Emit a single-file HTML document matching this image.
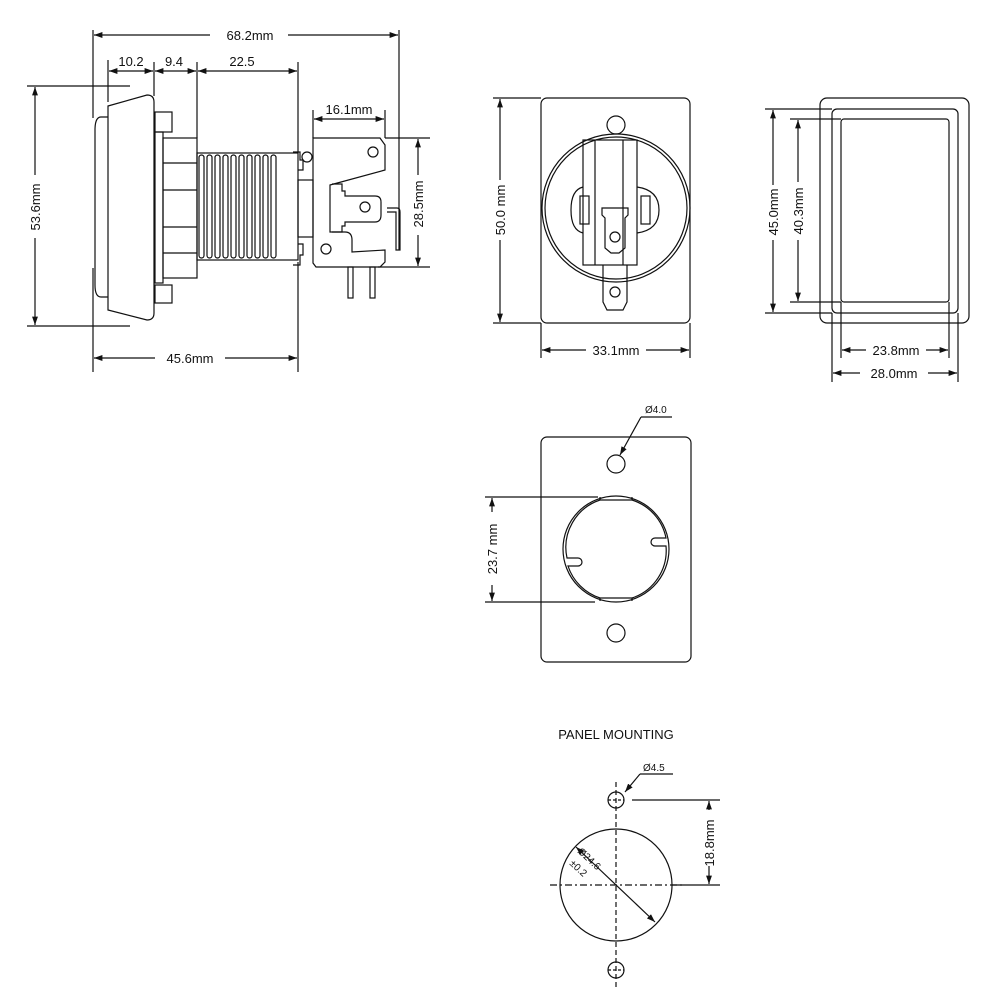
<!DOCTYPE html>
<html><head><meta charset="utf-8"><style>html,body{margin:0;padding:0;background:#fff}svg{display:block}text{font-family:"Liberation Sans",sans-serif;fill:#111}</style></head>
<body>
<svg width="1000" height="1000" viewBox="0 0 1000 1000" xmlns="http://www.w3.org/2000/svg">
<defs>
<marker id="a" viewBox="0 0 10 10" refX="10" refY="5" markerWidth="7" markerHeight="7" orient="auto-start-reverse"><path d="M0,1.5 L10,5 L0,8.5 z" fill="#111"/></marker>
</defs>
<g stroke="#111" stroke-width="1.2" fill="none">
<!-- SIDE VIEW dims -->
<line x1="93" y1="30" x2="93" y2="118"/><line x1="93" y1="268" x2="93" y2="372"/>
<line x1="399" y1="30" x2="399" y2="250"/>
<line x1="94" y1="35" x2="210" y2="35" marker-start="url(#a)"/><line x1="288" y1="35" x2="398" y2="35" marker-end="url(#a)"/>
<line x1="108" y1="60" x2="108" y2="102"/><line x1="154" y1="62" x2="154" y2="96"/><line x1="197" y1="62" x2="197" y2="138"/><line x1="298" y1="62" x2="298" y2="152"/><line x1="298" y1="262" x2="298" y2="372"/>
<line x1="109" y1="71" x2="153" y2="71" marker-start="url(#a)" marker-end="url(#a)"/>
<line x1="155" y1="71" x2="196" y2="71" marker-start="url(#a)" marker-end="url(#a)"/>
<line x1="198" y1="71" x2="297" y2="71" marker-start="url(#a)" marker-end="url(#a)"/>
<line x1="27" y1="86" x2="130" y2="86"/><line x1="27" y1="326" x2="130" y2="326"/>
<line x1="35" y1="87" x2="35" y2="175" marker-start="url(#a)"/><line x1="35" y1="238" x2="35" y2="325" marker-end="url(#a)"/>
<line x1="94" y1="358" x2="155" y2="358" marker-start="url(#a)"/><line x1="225" y1="358" x2="297" y2="358" marker-end="url(#a)"/>
<line x1="313" y1="110" x2="313" y2="138"/><line x1="385" y1="110" x2="385" y2="138"/>
<line x1="314" y1="119" x2="384" y2="119" marker-start="url(#a)" marker-end="url(#a)"/>
<line x1="385" y1="138" x2="430" y2="138"/><line x1="378" y1="267" x2="430" y2="267"/>
<line x1="418" y1="139" x2="418" y2="175" marker-start="url(#a)"/><line x1="418" y1="235" x2="418" y2="266" marker-end="url(#a)"/>
<!-- side view body -->
<path d="M108,117 L101,117 Q95,117 95,130 L95,285 Q95,297 101,297 L108,297"/>
<path d="M108,106 L147,95 Q154,95 154,102 L154,313 Q154,320 147,320 L108,310 Z"/>
<rect x="155" y="112" width="17" height="20"/><rect x="155" y="285" width="17" height="18"/>
<rect x="155" y="132" width="8" height="151"/>
<rect x="163" y="138" width="34" height="140"/>
<line x1="163" y1="163" x2="197" y2="163"/><line x1="163" y1="190" x2="197" y2="190"/><line x1="163" y1="227" x2="197" y2="227"/><line x1="163" y1="253" x2="197" y2="253"/>
<rect x="197" y="153" width="101" height="107"/>
<g>
<rect x="199" y="155" width="5" height="103" rx="2.5"/><rect x="207" y="155" width="5" height="103" rx="2.5"/><rect x="215" y="155" width="5" height="103" rx="2.5"/><rect x="223" y="155" width="5" height="103" rx="2.5"/><rect x="231" y="155" width="5" height="103" rx="2.5"/><rect x="239" y="155" width="5" height="103" rx="2.5"/><rect x="247" y="155" width="5" height="103" rx="2.5"/><rect x="255" y="155" width="5" height="103" rx="2.5"/><rect x="263" y="155" width="5" height="103" rx="2.5"/><rect x="271" y="155" width="5" height="103" rx="2.5"/>
</g>
<path d="M293,152 L300,152 L300,160 L303,160 L303,170 L298,170"/><path d="M293,265 L300,265 L300,255 L303,255 L303,244 L298,244"/>
<circle cx="307" cy="157" r="5"/>
<rect x="298" y="180" width="15" height="57"/>
<path d="M313,138 L380,138 L385,145 L385,170 L330,185 L330,232 L345,232 Q352,232 352,240 L352,252 L385,250 L385,262 L380,267 L316,267 L313,263 Z"/>
<circle cx="373" cy="152" r="5"/><circle cx="326" cy="249" r="5"/>
<path d="M332,184 L342,184 L342,191 L345,191 L345,196 L375,196 Q381,196 381,202 L381,215 Q381,222 375,222 L345,222 L345,226 L342,226 L342,232 L332,232"/>
<circle cx="365" cy="207" r="5"/>
<path d="M387,208 L397,208 Q400,208 400,212 L400,250 L396,250 L396,212 L387,212"/>
<rect x="348" y="267" width="5" height="31"/><rect x="370" y="267" width="5" height="31"/>
<!-- FRONT VIEW -->
<rect x="541" y="98" width="149" height="225" rx="6"/>
<line x1="493" y1="98" x2="541" y2="98"/><line x1="493" y1="323" x2="541" y2="323"/>
<line x1="500" y1="99" x2="500" y2="180" marker-start="url(#a)"/><line x1="500" y1="240" x2="500" y2="322" marker-end="url(#a)"/>
<line x1="541" y1="323" x2="541" y2="358"/><line x1="690" y1="323" x2="690" y2="358"/>
<line x1="542" y1="350" x2="586" y2="350" marker-start="url(#a)"/><line x1="646" y1="350" x2="689" y2="350" marker-end="url(#a)"/>
<circle cx="616" cy="208" r="74"/><circle cx="616" cy="208" r="71"/>
<circle cx="616" cy="125" r="9"/>
<path d="M583,187 Q571,190 571,210 Q571,230 583,233"/><path d="M637,187 Q659,190 659,210 Q659,230 637,233"/>
<rect x="580" y="196" width="9" height="28"/><rect x="641" y="196" width="9" height="28"/>
<rect x="583" y="140" width="54" height="125"/>
<line x1="595" y1="140" x2="595" y2="265"/><line x1="623" y1="140" x2="623" y2="265"/>
<path d="M603,265 L603,302 L607,310 L623,310 L627,302 L627,265"/>
<circle cx="615" cy="292" r="5"/>
<path d="M602,208 L628,208 L628,215 L625,218 L625,248 L619,253 L611,253 L605,248 L605,218 L602,215 Z"/>
<circle cx="615" cy="237" r="5"/>
<!-- RIGHT VIEW -->
<rect x="820" y="98" width="149" height="225" rx="7"/>
<rect x="832" y="109" width="126" height="204" rx="5"/>
<rect x="841" y="119" width="108" height="183" rx="3"/>
<line x1="765" y1="109" x2="832" y2="109"/><line x1="765" y1="313" x2="832" y2="313"/>
<line x1="790" y1="119" x2="841" y2="119"/><line x1="790" y1="302" x2="841" y2="302"/>
<line x1="773" y1="110" x2="773" y2="185" marker-start="url(#a)"/><line x1="773" y1="240" x2="773" y2="312" marker-end="url(#a)"/>
<line x1="798" y1="120" x2="798" y2="182" marker-start="url(#a)"/><line x1="798" y1="240" x2="798" y2="301" marker-end="url(#a)"/>
<line x1="832" y1="313" x2="832" y2="382"/><line x1="958" y1="313" x2="958" y2="382"/><line x1="841" y1="302" x2="841" y2="358"/><line x1="949" y1="302" x2="949" y2="358"/>
<line x1="842" y1="350" x2="866" y2="350" marker-start="url(#a)"/><line x1="926" y1="350" x2="948" y2="350" marker-end="url(#a)"/>
<line x1="833" y1="373" x2="860" y2="373" marker-start="url(#a)"/><line x1="928" y1="373" x2="957" y2="373" marker-end="url(#a)"/>
<!-- PLATE -->
<rect x="541" y="437" width="150" height="225" rx="6"/>
<circle cx="616" cy="464" r="9"/><circle cx="616" cy="633" r="9"/>
<circle cx="616" cy="549" r="53"/>
<path d="M600,500 A50,50 0 0 0 567,558 L578,558 A4,4 0 0 1 578,566 L568,566 A50,50 0 0 0 600,598"/>
<path d="M632,500 A50,50 0 0 1 666,538 L655,538 A4,4 0 0 0 655,546 L666,546 A50,50 0 0 1 632,598"/>
<line x1="600" y1="497" x2="600" y2="500"/><line x1="632" y1="497" x2="632" y2="500"/><line x1="600" y1="598" x2="600" y2="601"/><line x1="632" y1="598" x2="632" y2="601"/>
<line x1="600" y1="500" x2="632" y2="500"/><line x1="600" y1="598" x2="632" y2="598"/>
<line x1="485" y1="497" x2="598" y2="497"/><line x1="485" y1="602" x2="595" y2="602"/>
<line x1="492" y1="498" x2="492" y2="512" marker-start="url(#a)"/><line x1="492" y1="585" x2="492" y2="601" marker-end="url(#a)"/>
<line x1="672" y1="417" x2="641" y2="417"/><line x1="641" y1="417" x2="620" y2="455" marker-end="url(#a)"/>
<!-- PANEL MOUNTING -->
<circle cx="616" cy="800" r="8"/><circle cx="616" cy="970" r="8"/>
<circle cx="616" cy="885" r="56"/>
<line x1="616" y1="782" x2="616" y2="990" stroke-dasharray="5,3"/>
<line x1="550" y1="885" x2="682" y2="885" stroke-dasharray="7,3,2,3"/>
<line x1="608" y1="800" x2="624" y2="800" stroke-dasharray="3,2"/><line x1="608" y1="970" x2="624" y2="970" stroke-dasharray="3,2"/>
<line x1="632" y1="800" x2="720" y2="800"/><line x1="672" y1="885" x2="720" y2="885"/>
<line x1="709" y1="801" x2="709" y2="810" marker-start="url(#a)"/><line x1="709" y1="866" x2="709" y2="884" marker-end="url(#a)"/>
<line x1="673" y1="774" x2="640" y2="774"/><line x1="640" y1="774" x2="625" y2="792" marker-end="url(#a)"/>
<line x1="576" y1="847" x2="655" y2="922" marker-start="url(#a)" marker-end="url(#a)"/>
</g>
<g font-size="13">
<text x="250" y="40" text-anchor="middle">68.2mm</text>
<text x="131" y="66" text-anchor="middle">10.2</text>
<text x="174" y="66" text-anchor="middle">9.4</text>
<text x="242" y="66" text-anchor="middle">22.5</text>
<text x="349" y="114" text-anchor="middle">16.1mm</text>
<text x="190" y="363" text-anchor="middle">45.6mm</text>
<text transform="translate(40,207) rotate(-90)" text-anchor="middle">53.6mm</text>
<text transform="translate(423,204) rotate(-90)" text-anchor="middle">28.5mm</text>
<text transform="translate(505,210) rotate(-90)" text-anchor="middle">50.0 mm</text>
<text x="616" y="355" text-anchor="middle">33.1mm</text>
<text transform="translate(778,212) rotate(-90)" text-anchor="middle">45.0mm</text>
<text transform="translate(803,211) rotate(-90)" text-anchor="middle">40.3mm</text>
<text x="896" y="355" text-anchor="middle">23.8mm</text>
<text x="894" y="378" text-anchor="middle">28.0mm</text>
<text transform="translate(497,549) rotate(-90)" text-anchor="middle">23.7 mm</text>
<text transform="translate(714,843) rotate(-90)" text-anchor="middle">18.8mm</text>
<text x="616" y="739" text-anchor="middle">PANEL MOUNTING</text>
</g>
<g font-size="10">
<text x="645" y="413">Ø4.0</text>
<text x="643" y="771">Ø4.5</text>
<text transform="translate(577,852) rotate(43)">Ø24.6</text>
<text transform="translate(569,864) rotate(43)">±0.2</text>
</g>
</svg>
</body></html>
